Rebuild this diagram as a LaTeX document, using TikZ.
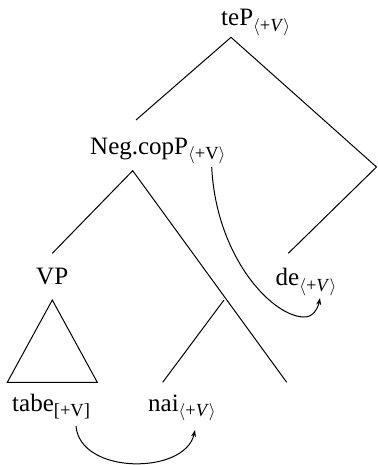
\documentclass[tikz,border=0pt]{standalone}
\usepackage{fontspec}
\setmainfont{Liberation Serif}
\usetikzlibrary{arrows.meta}
\newcommand{\sbx}[1]{\raisebox{-5.5pt}{\fontsize{18.5}{18.5}\selectfont #1}}
\newcommand{\plusVi}{\sbx{$\langle$+\textit{V}$\rangle$}}
\newcommand{\plusVu}{\sbx{$\langle$+V$\rangle$}}
\begin{document}
\begin{tikzpicture}[x=1pt,y=-1pt,
  lbl/.style={anchor=base west,inner sep=0pt,font=\fontsize{25}{29}\selectfont},
  edge/.style={line width=1pt},
  mv/.style={line width=1pt,-{Stealth[length=7pt,width=5pt]}}]
\useasboundingbox (0,0) rectangle (377,465);
% labels
\node[lbl] (teP) at (221,26) {teP\plusVi};
\node[lbl] (neg) at (90,154) {Neg.copP\plusVu};
\node[lbl] (vp) at (36,284) {VP};
\node[lbl] (de) at (275.5,285.5) {de\plusVi};
\node[lbl] (tabe) at (12,411) {tabe\sbx{[+V]}};
\node[lbl] (nai) at (148,411) {nai\plusVi};
% tree points
\coordinate (a) at (231,37.3);
\coordinate (aL) at (136,120);
\coordinate (y) at (376.5,167);
\coordinate (yL) at (288.3,253.3);
\coordinate (b) at (132.7,170.7);
\coordinate (bL) at (52.3,253.3);
\coordinate (bR) at (286.7,382.3);
\coordinate (x) at (224,300);
\coordinate (xL) at (162.7,382.3);
\coordinate (t) at (52.3,300);
\coordinate (t1) at (7.3,382.3);
\coordinate (t2) at (97.3,382.3);
\coordinate (m1s) at (211.7,167);
\coordinate (m1b) at (303,317);
\coordinate (m1e) at (320,298);
\coordinate (m2s) at (76,426);
\coordinate (m2e) at (195,430);
% edges
\draw[edge] (aL) -- (a) -- (y) -- (yL);
\draw[edge] (bL) -- (b) -- (bR);
\draw[edge] (x) -- (xL);
\draw[edge,line join=miter] (t) -- (t1) -- (t2) -- cycle;
% movement arrows
\draw[mv] (m1s) .. controls (216,255) and (270,315) .. (m1b) .. controls (313,318) and (318,308) .. (m1e);
\draw[mv] (m2s) .. controls (80,475) and (185,475) .. (m2e);
\end{tikzpicture}
\end{document}
